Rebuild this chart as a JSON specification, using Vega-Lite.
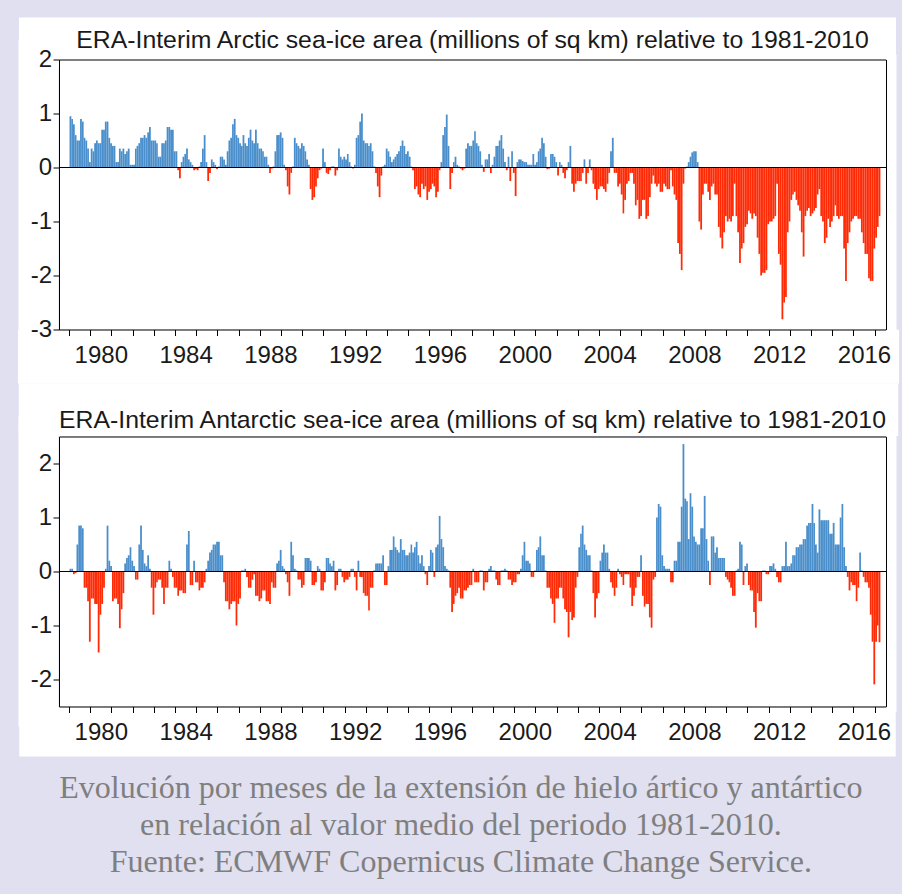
{
"$schema": "https://vega.github.io/schema/vega-lite/v6.json",
"background": "#e0e0f0",
"padding": {"left": 30, "top": 27.5, "right": 10, "bottom": 16},
"spacing": 36,
"title": {"text": ["Evolución por meses de la extensión de hielo ártico y antártico", "en relación al valor medio del periodo 1981-2010.", "Fuente: ECMWF Copernicus Climate Change Service."], "orient": "bottom", "anchor": "middle", "font": "Liberation Serif", "fontSize": 32, "fontWeight": "normal", "color": "#7f7f7f", "lineHeight": 37, "offset": 26},
"config": {
  "view": {"fill": "#ffffff", "stroke": null},
  "axis": {"grid": false, "labelFont": "Liberation Sans", "labelFontSize": 24, "labelColor": "#1a1a1a", "tickColor": "#000000", "domainColor": "#000000", "labelFlush": false, "labelOverlap": false}
},
"datasets": {
"arctic": [
{"d":"1979-01","v":0.95},{"d":"1979-02","v":0.9},{"d":"1979-03","v":0.8},{"d":"1979-04","v":0.6},{"d":"1979-05","v":0.5},{"d":"1979-06","v":0.5},{"d":"1979-07","v":0.9},{"d":"1979-08","v":0.85},{"d":"1979-09","v":0.55},{"d":"1979-10","v":0.5},{"d":"1979-11","v":0.35},{"d":"1979-12","v":0.1},
{"d":"1980-01","v":0.35},{"d":"1980-02","v":0.3},{"d":"1980-03","v":0.45},{"d":"1980-04","v":0.5},{"d":"1980-05","v":0.45},{"d":"1980-06","v":0.45},{"d":"1980-07","v":0.7},{"d":"1980-08","v":0.7},{"d":"1980-09","v":0.85},{"d":"1980-10","v":0.85},{"d":"1980-11","v":0.55},{"d":"1980-12","v":0.45},
{"d":"1981-01","v":0.4},{"d":"1981-02","v":0.4},{"d":"1981-03","v":0.1},{"d":"1981-04","v":0.1},{"d":"1981-05","v":0.35},{"d":"1981-06","v":0.3},{"d":"1981-07","v":0.35},{"d":"1981-08","v":0.25},{"d":"1981-09","v":0.3},{"d":"1981-10","v":0.35},{"d":"1981-11","v":0.05},{"d":"1981-12","v":0.05},
{"d":"1982-01","v":0.05},{"d":"1982-02","v":0.35},{"d":"1982-03","v":0.4},{"d":"1982-04","v":0.45},{"d":"1982-05","v":0.55},{"d":"1982-06","v":0.55},{"d":"1982-07","v":0.6},{"d":"1982-08","v":0.55},{"d":"1982-09","v":0.65},{"d":"1982-10","v":0.75},{"d":"1982-11","v":0.5},{"d":"1982-12","v":0.5},
{"d":"1983-01","v":0.5},{"d":"1983-02","v":0.45},{"d":"1983-03","v":0.2},{"d":"1983-04","v":0.2},{"d":"1983-05","v":0.45},{"d":"1983-06","v":0.45},{"d":"1983-07","v":0.5},{"d":"1983-08","v":0.75},{"d":"1983-09","v":0.75},{"d":"1983-10","v":0.7},{"d":"1983-11","v":0.7},{"d":"1983-12","v":0.3},
{"d":"1984-01","v":0.3},{"d":"1984-02","v":-0.05},{"d":"1984-03","v":-0.2},{"d":"1984-04","v":0.1},{"d":"1984-05","v":0.2},{"d":"1984-06","v":0.25},{"d":"1984-07","v":0.35},{"d":"1984-08","v":0.15},{"d":"1984-09","v":0.1},{"d":"1984-10","v":0.05},{"d":"1984-11","v":-0.05},{"d":"1984-12","v":-0.03},
{"d":"1985-01","v":-0.05},{"d":"1985-02","v":0.02},{"d":"1985-03","v":0.1},{"d":"1985-04","v":0.35},{"d":"1985-05","v":0.6},{"d":"1985-06","v":0.1},{"d":"1985-07","v":-0.25},{"d":"1985-08","v":-0.1},{"d":"1985-09","v":0.15},{"d":"1985-10","v":0.1},{"d":"1985-11","v":0.05},{"d":"1985-12","v":-0.03},
{"d":"1986-01","v":0.02},{"d":"1986-02","v":0.2},{"d":"1986-03","v":0.2},{"d":"1986-04","v":0.15},{"d":"1986-05","v":0.05},{"d":"1986-06","v":0.3},{"d":"1986-07","v":0.5},{"d":"1986-08","v":0.55},{"d":"1986-09","v":0.8},{"d":"1986-10","v":0.9},{"d":"1986-11","v":0.6},{"d":"1986-12","v":0.55},
{"d":"1987-01","v":0.45},{"d":"1987-02","v":0.4},{"d":"1987-03","v":0.6},{"d":"1987-04","v":0.45},{"d":"1987-05","v":0.4},{"d":"1987-06","v":0.55},{"d":"1987-07","v":0.7},{"d":"1987-08","v":0.5},{"d":"1987-09","v":0.45},{"d":"1987-10","v":0.7},{"d":"1987-11","v":0.45},{"d":"1987-12","v":0.35},
{"d":"1988-01","v":0.35},{"d":"1988-02","v":0.3},{"d":"1988-03","v":0.2},{"d":"1988-04","v":0.2},{"d":"1988-05","v":0.05},{"d":"1988-06","v":-0.1},{"d":"1988-07","v":-0.02},{"d":"1988-08","v":0.02},{"d":"1988-09","v":0.3},{"d":"1988-10","v":0.6},{"d":"1988-11","v":0.6},{"d":"1988-12","v":0.65},
{"d":"1989-01","v":0.55},{"d":"1989-02","v":0.05},{"d":"1989-03","v":-0.05},{"d":"1989-04","v":-0.35},{"d":"1989-05","v":-0.5},{"d":"1989-06","v":-0.1},{"d":"1989-07","v":0.02},{"d":"1989-08","v":0.55},{"d":"1989-09","v":0.45},{"d":"1989-10","v":0.4},{"d":"1989-11","v":0.35},{"d":"1989-12","v":0.45},
{"d":"1990-01","v":0.4},{"d":"1990-02","v":0.3},{"d":"1990-03","v":0.15},{"d":"1990-04","v":0.05},{"d":"1990-05","v":-0.4},{"d":"1990-06","v":-0.6},{"d":"1990-07","v":-0.55},{"d":"1990-08","v":-0.35},{"d":"1990-09","v":-0.2},{"d":"1990-10","v":-0.05},{"d":"1990-11","v":-0.02},{"d":"1990-12","v":0.35},
{"d":"1991-01","v":0.1},{"d":"1991-02","v":-0.1},{"d":"1991-03","v":-0.12},{"d":"1991-04","v":-0.05},{"d":"1991-05","v":0.02},{"d":"1991-06","v":0.02},{"d":"1991-07","v":-0.15},{"d":"1991-08","v":-0.05},{"d":"1991-09","v":0.35},{"d":"1991-10","v":0.2},{"d":"1991-11","v":0.15},{"d":"1991-12","v":0.2},
{"d":"1992-01","v":0.15},{"d":"1992-02","v":0.25},{"d":"1992-03","v":0.1},{"d":"1992-04","v":0.02},{"d":"1992-05","v":-0.02},{"d":"1992-06","v":0.05},{"d":"1992-07","v":0.55},{"d":"1992-08","v":0.6},{"d":"1992-09","v":0.85},{"d":"1992-10","v":1.0},{"d":"1992-11","v":0.5},{"d":"1992-12","v":0.45},
{"d":"1993-01","v":0.45},{"d":"1993-02","v":0.4},{"d":"1993-03","v":0.45},{"d":"1993-04","v":0.3},{"d":"1993-05","v":0.02},{"d":"1993-06","v":-0.1},{"d":"1993-07","v":-0.35},{"d":"1993-08","v":-0.55},{"d":"1993-09","v":-0.15},{"d":"1993-10","v":0.02},{"d":"1993-11","v":0.05},{"d":"1993-12","v":0.35},
{"d":"1994-01","v":0.3},{"d":"1994-02","v":0.2},{"d":"1994-03","v":0.1},{"d":"1994-04","v":0.15},{"d":"1994-05","v":0.2},{"d":"1994-06","v":0.25},{"d":"1994-07","v":0.3},{"d":"1994-08","v":0.4},{"d":"1994-09","v":0.5},{"d":"1994-10","v":0.4},{"d":"1994-11","v":0.25},{"d":"1994-12","v":0.3},
{"d":"1995-01","v":0.2},{"d":"1995-02","v":0.02},{"d":"1995-03","v":-0.05},{"d":"1995-04","v":-0.4},{"d":"1995-05","v":-0.35},{"d":"1995-06","v":-0.5},{"d":"1995-07","v":-0.55},{"d":"1995-08","v":-0.3},{"d":"1995-09","v":-0.4},{"d":"1995-10","v":-0.35},{"d":"1995-11","v":-0.6},{"d":"1995-12","v":-0.45},
{"d":"1996-01","v":-0.4},{"d":"1996-02","v":-0.3},{"d":"1996-03","v":-0.35},{"d":"1996-04","v":-0.55},{"d":"1996-05","v":-0.45},{"d":"1996-06","v":-0.05},{"d":"1996-07","v":0.1},{"d":"1996-08","v":0.6},{"d":"1996-09","v":0.75},{"d":"1996-10","v":0.98},{"d":"1996-11","v":0.4},{"d":"1996-12","v":-0.4},
{"d":"1997-01","v":-0.1},{"d":"1997-02","v":0.1},{"d":"1997-03","v":0.2},{"d":"1997-04","v":0.05},{"d":"1997-05","v":0.02},{"d":"1997-06","v":-0.02},{"d":"1997-07","v":-0.05},{"d":"1997-08","v":-0.02},{"d":"1997-09","v":0.35},{"d":"1997-10","v":0.45},{"d":"1997-11","v":0.4},{"d":"1997-12","v":0.4},
{"d":"1998-01","v":0.5},{"d":"1998-02","v":0.67},{"d":"1998-03","v":0.45},{"d":"1998-04","v":0.4},{"d":"1998-05","v":0.3},{"d":"1998-06","v":0.05},{"d":"1998-07","v":-0.08},{"d":"1998-08","v":0.15},{"d":"1998-09","v":0.15},{"d":"1998-10","v":0.25},{"d":"1998-11","v":-0.1},{"d":"1998-12","v":0.05},
{"d":"1999-01","v":0.2},{"d":"1999-02","v":0.4},{"d":"1999-03","v":0.4},{"d":"1999-04","v":0.5},{"d":"1999-05","v":0.6},{"d":"1999-06","v":0.35},{"d":"1999-07","v":0.1},{"d":"1999-08","v":-0.05},{"d":"1999-09","v":0.2},{"d":"1999-10","v":-0.25},{"d":"1999-11","v":0.3},{"d":"1999-12","v":-0.1},
{"d":"2000-01","v":-0.53},{"d":"2000-02","v":0.1},{"d":"2000-03","v":0.15},{"d":"2000-04","v":0.15},{"d":"2000-05","v":0.12},{"d":"2000-06","v":0.1},{"d":"2000-07","v":0.1},{"d":"2000-08","v":0.05},{"d":"2000-09","v":0.05},{"d":"2000-10","v":0.05},{"d":"2000-11","v":0.25},{"d":"2000-12","v":0.05},
{"d":"2001-01","v":0.1},{"d":"2001-02","v":0.3},{"d":"2001-03","v":0.35},{"d":"2001-04","v":0.55},{"d":"2001-05","v":0.45},{"d":"2001-06","v":0.2},{"d":"2001-07","v":-0.03},{"d":"2001-08","v":-0.02},{"d":"2001-09","v":0.25},{"d":"2001-10","v":0.25},{"d":"2001-11","v":0.2},{"d":"2001-12","v":0.1},
{"d":"2002-01","v":-0.15},{"d":"2002-02","v":0.1},{"d":"2002-03","v":0.05},{"d":"2002-04","v":-0.1},{"d":"2002-05","v":-0.2},{"d":"2002-06","v":-0.05},{"d":"2002-07","v":0.1},{"d":"2002-08","v":0.4},{"d":"2002-09","v":-0.3},{"d":"2002-10","v":-0.45},{"d":"2002-11","v":-0.3},{"d":"2002-12","v":-0.25},
{"d":"2003-01","v":-0.25},{"d":"2003-02","v":-0.25},{"d":"2003-03","v":-0.1},{"d":"2003-04","v":0.15},{"d":"2003-05","v":-0.3},{"d":"2003-06","v":-0.1},{"d":"2003-07","v":0.15},{"d":"2003-08","v":-0.05},{"d":"2003-09","v":-0.3},{"d":"2003-10","v":-0.4},{"d":"2003-11","v":-0.6},{"d":"2003-12","v":-0.4},
{"d":"2004-01","v":-0.35},{"d":"2004-02","v":-0.35},{"d":"2004-03","v":-0.4},{"d":"2004-04","v":-0.45},{"d":"2004-05","v":-0.3},{"d":"2004-06","v":-0.1},{"d":"2004-07","v":0.3},{"d":"2004-08","v":0.55},{"d":"2004-09","v":-0.1},{"d":"2004-10","v":-0.1},{"d":"2004-11","v":-0.35},{"d":"2004-12","v":-0.3},
{"d":"2005-01","v":-0.5},{"d":"2005-02","v":-0.85},{"d":"2005-03","v":-0.6},{"d":"2005-04","v":-0.3},{"d":"2005-05","v":-0.25},{"d":"2005-06","v":-0.1},{"d":"2005-07","v":-0.1},{"d":"2005-08","v":-0.3},{"d":"2005-09","v":-0.7},{"d":"2005-10","v":-0.6},{"d":"2005-11","v":-0.95},{"d":"2005-12","v":-0.9},
{"d":"2006-01","v":-0.6},{"d":"2006-02","v":-0.6},{"d":"2006-03","v":-0.95},{"d":"2006-04","v":-0.9},{"d":"2006-05","v":-0.55},{"d":"2006-06","v":-0.3},{"d":"2006-07","v":-0.15},{"d":"2006-08","v":-0.3},{"d":"2006-09","v":-0.35},{"d":"2006-10","v":-0.3},{"d":"2006-11","v":-0.45},{"d":"2006-12","v":-0.45},
{"d":"2007-01","v":-0.3},{"d":"2007-02","v":-0.35},{"d":"2007-03","v":-0.4},{"d":"2007-04","v":-0.4},{"d":"2007-05","v":-0.05},{"d":"2007-06","v":-0.35},{"d":"2007-07","v":-0.5},{"d":"2007-08","v":-0.6},{"d":"2007-09","v":-1.4},{"d":"2007-10","v":-1.6},{"d":"2007-11","v":-1.9},{"d":"2007-12","v":-0.3},
{"d":"2008-01","v":-0.02},{"d":"2008-02","v":0.02},{"d":"2008-03","v":0.1},{"d":"2008-04","v":0.2},{"d":"2008-05","v":0.28},{"d":"2008-06","v":0.3},{"d":"2008-07","v":0.3},{"d":"2008-08","v":0.1},{"d":"2008-09","v":-1.0},{"d":"2008-10","v":-1.15},{"d":"2008-11","v":-0.5},{"d":"2008-12","v":-0.3},
{"d":"2009-01","v":-0.3},{"d":"2009-02","v":-0.45},{"d":"2009-03","v":-0.6},{"d":"2009-04","v":-0.35},{"d":"2009-05","v":-0.3},{"d":"2009-06","v":-0.5},{"d":"2009-07","v":-0.5},{"d":"2009-08","v":-1.1},{"d":"2009-09","v":-1.3},{"d":"2009-10","v":-1.5},{"d":"2009-11","v":-1.2},{"d":"2009-12","v":-0.9},
{"d":"2010-01","v":-1.0},{"d":"2010-02","v":-0.95},{"d":"2010-03","v":-1.0},{"d":"2010-04","v":-0.9},{"d":"2010-05","v":-0.3},{"d":"2010-06","v":-0.9},{"d":"2010-07","v":-1.2},{"d":"2010-08","v":-1.77},{"d":"2010-09","v":-1.5},{"d":"2010-10","v":-1.4},{"d":"2010-11","v":-1.1},{"d":"2010-12","v":-1.05},
{"d":"2011-01","v":-0.8},{"d":"2011-02","v":-0.85},{"d":"2011-03","v":-0.95},{"d":"2011-04","v":-0.85},{"d":"2011-05","v":-0.9},{"d":"2011-06","v":-1.3},{"d":"2011-07","v":-1.6},{"d":"2011-08","v":-2.0},{"d":"2011-09","v":-1.95},{"d":"2011-10","v":-1.95},{"d":"2011-11","v":-1.9},{"d":"2011-12","v":-1.05},
{"d":"2012-01","v":-1.0},{"d":"2012-02","v":-1.0},{"d":"2012-03","v":-0.95},{"d":"2012-04","v":-0.9},{"d":"2012-05","v":-0.3},{"d":"2012-06","v":-1.6},{"d":"2012-07","v":-1.8},{"d":"2012-08","v":-2.81},{"d":"2012-09","v":-2.5},{"d":"2012-10","v":-2.4},{"d":"2012-11","v":-1.2},{"d":"2012-12","v":-1.0},
{"d":"2013-01","v":-0.6},{"d":"2013-02","v":-0.5},{"d":"2013-03","v":-0.45},{"d":"2013-04","v":-0.6},{"d":"2013-05","v":-0.7},{"d":"2013-06","v":-0.8},{"d":"2013-07","v":-1.2},{"d":"2013-08","v":-1.65},{"d":"2013-09","v":-0.9},{"d":"2013-10","v":-0.8},{"d":"2013-11","v":-0.75},{"d":"2013-12","v":-0.9},
{"d":"2014-01","v":-0.85},{"d":"2014-02","v":-0.8},{"d":"2014-03","v":-0.75},{"d":"2014-04","v":-0.5},{"d":"2014-05","v":-0.4},{"d":"2014-06","v":-0.9},{"d":"2014-07","v":-1.0},{"d":"2014-08","v":-1.4},{"d":"2014-09","v":-1.3},{"d":"2014-10","v":-0.95},{"d":"2014-11","v":-1.1},{"d":"2014-12","v":-1.0},
{"d":"2015-01","v":-0.9},{"d":"2015-02","v":-0.7},{"d":"2015-03","v":-0.9},{"d":"2015-04","v":-0.95},{"d":"2015-05","v":-0.9},{"d":"2015-06","v":-0.9},{"d":"2015-07","v":-1.5},{"d":"2015-08","v":-2.1},{"d":"2015-09","v":-1.4},{"d":"2015-10","v":-1.2},{"d":"2015-11","v":-1.0},{"d":"2015-12","v":-0.95},
{"d":"2016-01","v":-0.9},{"d":"2016-02","v":-0.9},{"d":"2016-03","v":-0.95},{"d":"2016-04","v":-0.95},{"d":"2016-05","v":-1.2},{"d":"2016-06","v":-1.4},{"d":"2016-07","v":-1.6},{"d":"2016-08","v":-1.6},{"d":"2016-09","v":-2.05},{"d":"2016-10","v":-2.1},{"d":"2016-11","v":-2.1},{"d":"2016-12","v":-1.5},
{"d":"2017-01","v":-1.3},{"d":"2017-02","v":-1.1},{"d":"2017-03","v":-0.9}
],
"antarctic": [
{"d":"1979-01","v":0.05},{"d":"1979-02","v":0.05},{"d":"1979-03","v":-0.05},{"d":"1979-04","v":-0.03},{"d":"1979-05","v":0.5},{"d":"1979-06","v":0.85},{"d":"1979-07","v":0.85},{"d":"1979-08","v":0.8},{"d":"1979-09","v":-0.3},{"d":"1979-10","v":-0.3},{"d":"1979-11","v":-0.55},{"d":"1979-12","v":-1.3},
{"d":"1980-01","v":-0.5},{"d":"1980-02","v":-0.5},{"d":"1980-03","v":-0.6},{"d":"1980-04","v":-0.6},{"d":"1980-05","v":-1.5},{"d":"1980-06","v":-0.8},{"d":"1980-07","v":-0.6},{"d":"1980-08","v":-0.3},{"d":"1980-09","v":0.05},{"d":"1980-10","v":0.85},{"d":"1980-11","v":0.2},{"d":"1980-12","v":0.1},
{"d":"1981-01","v":-0.55},{"d":"1981-02","v":-0.5},{"d":"1981-03","v":-0.5},{"d":"1981-04","v":-0.6},{"d":"1981-05","v":-1.05},{"d":"1981-06","v":-0.7},{"d":"1981-07","v":-0.4},{"d":"1981-08","v":0.15},{"d":"1981-09","v":0.25},{"d":"1981-10","v":0.3},{"d":"1981-11","v":0.45},{"d":"1981-12","v":0.2},
{"d":"1982-01","v":0.1},{"d":"1982-02","v":-0.15},{"d":"1982-03","v":-0.15},{"d":"1982-04","v":0.5},{"d":"1982-05","v":0.85},{"d":"1982-06","v":0.4},{"d":"1982-07","v":0.15},{"d":"1982-08","v":0.1},{"d":"1982-09","v":0.3},{"d":"1982-10","v":0.05},{"d":"1982-11","v":-0.3},{"d":"1982-12","v":-0.8},
{"d":"1983-01","v":-0.3},{"d":"1983-02","v":-0.2},{"d":"1983-03","v":-0.15},{"d":"1983-04","v":-0.15},{"d":"1983-05","v":-0.3},{"d":"1983-06","v":-0.6},{"d":"1983-07","v":-0.3},{"d":"1983-08","v":-0.3},{"d":"1983-09","v":0.2},{"d":"1983-10","v":0.05},{"d":"1983-11","v":-0.1},{"d":"1983-12","v":-0.3},
{"d":"1984-01","v":-0.3},{"d":"1984-02","v":-0.45},{"d":"1984-03","v":-0.35},{"d":"1984-04","v":-0.35},{"d":"1984-05","v":-0.4},{"d":"1984-06","v":-0.4},{"d":"1984-07","v":0.5},{"d":"1984-08","v":0.75},{"d":"1984-09","v":-0.25},{"d":"1984-10","v":-0.25},{"d":"1984-11","v":0.2},{"d":"1984-12","v":-0.2},
{"d":"1985-01","v":-0.2},{"d":"1985-02","v":-0.35},{"d":"1985-03","v":-0.3},{"d":"1985-04","v":-0.3},{"d":"1985-05","v":-0.2},{"d":"1985-06","v":0.05},{"d":"1985-07","v":0.2},{"d":"1985-08","v":0.35},{"d":"1985-09","v":0.4},{"d":"1985-10","v":0.5},{"d":"1985-11","v":0.5},{"d":"1985-12","v":0.55},
{"d":"1986-01","v":0.55},{"d":"1986-02","v":0.3},{"d":"1986-03","v":0.3},{"d":"1986-04","v":-0.2},{"d":"1986-05","v":-0.55},{"d":"1986-06","v":-0.55},{"d":"1986-07","v":-0.7},{"d":"1986-08","v":-0.6},{"d":"1986-09","v":-0.55},{"d":"1986-10","v":-0.55},{"d":"1986-11","v":-1.0},{"d":"1986-12","v":-0.6},
{"d":"1987-01","v":-0.5},{"d":"1987-02","v":0.02},{"d":"1987-03","v":0.02},{"d":"1987-04","v":0.05},{"d":"1987-05","v":-0.1},{"d":"1987-06","v":-0.3},{"d":"1987-07","v":-0.3},{"d":"1987-08","v":-0.15},{"d":"1987-09","v":-0.05},{"d":"1987-10","v":-0.45},{"d":"1987-11","v":-0.45},{"d":"1987-12","v":-0.55},
{"d":"1988-01","v":-0.5},{"d":"1988-02","v":-0.35},{"d":"1988-03","v":-0.35},{"d":"1988-04","v":-0.55},{"d":"1988-05","v":-0.55},{"d":"1988-06","v":-0.6},{"d":"1988-07","v":-0.2},{"d":"1988-08","v":-0.3},{"d":"1988-09","v":-0.3},{"d":"1988-10","v":0.15},{"d":"1988-11","v":0.2},{"d":"1988-12","v":0.4},
{"d":"1989-01","v":0.1},{"d":"1989-02","v":0.05},{"d":"1989-03","v":-0.05},{"d":"1989-04","v":-0.2},{"d":"1989-05","v":-0.45},{"d":"1989-06","v":0.55},{"d":"1989-07","v":0.3},{"d":"1989-08","v":0.05},{"d":"1989-09","v":0.02},{"d":"1989-10","v":-0.15},{"d":"1989-11","v":-0.15},{"d":"1989-12","v":-0.3},
{"d":"1990-01","v":-0.25},{"d":"1990-02","v":0.25},{"d":"1990-03","v":0.25},{"d":"1990-04","v":0.25},{"d":"1990-05","v":0.2},{"d":"1990-06","v":-0.25},{"d":"1990-07","v":-0.25},{"d":"1990-08","v":-0.2},{"d":"1990-09","v":0.1},{"d":"1990-10","v":0.05},{"d":"1990-11","v":-0.35},{"d":"1990-12","v":-0.35},
{"d":"1991-01","v":-0.2},{"d":"1991-02","v":0.25},{"d":"1991-03","v":0.25},{"d":"1991-04","v":0.15},{"d":"1991-05","v":0.1},{"d":"1991-06","v":0.2},{"d":"1991-07","v":-0.35},{"d":"1991-08","v":-0.25},{"d":"1991-09","v":0.05},{"d":"1991-10","v":0.05},{"d":"1991-11","v":-0.1},{"d":"1991-12","v":-0.2},
{"d":"1992-01","v":-0.15},{"d":"1992-02","v":-0.15},{"d":"1992-03","v":-0.1},{"d":"1992-04","v":0.05},{"d":"1992-05","v":0.05},{"d":"1992-06","v":-0.1},{"d":"1992-07","v":-0.35},{"d":"1992-08","v":0.2},{"d":"1992-09","v":-0.1},{"d":"1992-10","v":-0.1},{"d":"1992-11","v":-0.4},{"d":"1992-12","v":-0.45},
{"d":"1993-01","v":-0.45},{"d":"1993-02","v":-0.72},{"d":"1993-03","v":-0.3},{"d":"1993-04","v":-0.3},{"d":"1993-05","v":0.02},{"d":"1993-06","v":0.15},{"d":"1993-07","v":0.15},{"d":"1993-08","v":0.15},{"d":"1993-09","v":0.15},{"d":"1993-10","v":0.3},{"d":"1993-11","v":-0.25},{"d":"1993-12","v":-0.25},
{"d":"1994-01","v":0.1},{"d":"1994-02","v":0.4},{"d":"1994-03","v":0.4},{"d":"1994-04","v":0.65},{"d":"1994-05","v":0.45},{"d":"1994-06","v":0.4},{"d":"1994-07","v":0.35},{"d":"1994-08","v":0.6},{"d":"1994-09","v":0.4},{"d":"1994-10","v":0.4},{"d":"1994-11","v":0.3},{"d":"1994-12","v":0.3},
{"d":"1995-01","v":0.35},{"d":"1995-02","v":0.5},{"d":"1995-03","v":0.35},{"d":"1995-04","v":0.45},{"d":"1995-05","v":0.55},{"d":"1995-06","v":0.3},{"d":"1995-07","v":0.15},{"d":"1995-08","v":0.3},{"d":"1995-09","v":0.1},{"d":"1995-10","v":-0.05},{"d":"1995-11","v":-0.25},{"d":"1995-12","v":0.1},
{"d":"1996-01","v":0.4},{"d":"1996-02","v":0.35},{"d":"1996-03","v":-0.1},{"d":"1996-04","v":0.45},{"d":"1996-05","v":0.5},{"d":"1996-06","v":1.03},{"d":"1996-07","v":0.6},{"d":"1996-08","v":0.45},{"d":"1996-09","v":0.1},{"d":"1996-10","v":0.05},{"d":"1996-11","v":0.02},{"d":"1996-12","v":-0.3},
{"d":"1997-01","v":-0.75},{"d":"1997-02","v":-0.6},{"d":"1997-03","v":-0.45},{"d":"1997-04","v":-0.4},{"d":"1997-05","v":-0.3},{"d":"1997-06","v":-0.5},{"d":"1997-07","v":-0.5},{"d":"1997-08","v":-0.35},{"d":"1997-09","v":-0.35},{"d":"1997-10","v":-0.3},{"d":"1997-11","v":-0.25},{"d":"1997-12","v":-0.25},
{"d":"1998-01","v":0.05},{"d":"1998-02","v":-0.2},{"d":"1998-03","v":-0.2},{"d":"1998-04","v":-0.2},{"d":"1998-05","v":0.02},{"d":"1998-06","v":0.02},{"d":"1998-07","v":-0.35},{"d":"1998-08","v":-0.2},{"d":"1998-09","v":-0.2},{"d":"1998-10","v":0.05},{"d":"1998-11","v":0.1},{"d":"1998-12","v":0.02},
{"d":"1999-01","v":0.02},{"d":"1999-02","v":-0.15},{"d":"1999-03","v":-0.25},{"d":"1999-04","v":-0.25},{"d":"1999-05","v":0.02},{"d":"1999-06","v":0.02},{"d":"1999-07","v":0.05},{"d":"1999-08","v":0.02},{"d":"1999-09","v":-0.15},{"d":"1999-10","v":-0.15},{"d":"1999-11","v":-0.25},{"d":"1999-12","v":-0.2},
{"d":"2000-01","v":-0.2},{"d":"2000-02","v":-0.05},{"d":"2000-03","v":-0.05},{"d":"2000-04","v":0.05},{"d":"2000-05","v":0.3},{"d":"2000-06","v":0.55},{"d":"2000-07","v":0.2},{"d":"2000-08","v":0.2},{"d":"2000-09","v":0.15},{"d":"2000-10","v":-0.1},{"d":"2000-11","v":-0.1},{"d":"2000-12","v":0.02},
{"d":"2001-01","v":0.4},{"d":"2001-02","v":0.45},{"d":"2001-03","v":0.65},{"d":"2001-04","v":0.3},{"d":"2001-05","v":0.3},{"d":"2001-06","v":0.02},{"d":"2001-07","v":-0.3},{"d":"2001-08","v":-0.3},{"d":"2001-09","v":-0.5},{"d":"2001-10","v":-0.6},{"d":"2001-11","v":-0.95},{"d":"2001-12","v":-0.5},
{"d":"2002-01","v":-0.5},{"d":"2002-02","v":-0.3},{"d":"2002-03","v":-0.3},{"d":"2002-04","v":-0.5},{"d":"2002-05","v":-0.7},{"d":"2002-06","v":-0.75},{"d":"2002-07","v":-1.22},{"d":"2002-08","v":-0.75},{"d":"2002-09","v":-0.9},{"d":"2002-10","v":-0.85},{"d":"2002-11","v":-0.3},{"d":"2002-12","v":-0.1},
{"d":"2003-01","v":0.45},{"d":"2003-02","v":0.7},{"d":"2003-03","v":0.85},{"d":"2003-04","v":0.5},{"d":"2003-05","v":0.4},{"d":"2003-06","v":0.3},{"d":"2003-07","v":0.3},{"d":"2003-08","v":0.02},{"d":"2003-09","v":-0.4},{"d":"2003-10","v":-0.85},{"d":"2003-11","v":-0.5},{"d":"2003-12","v":-0.4},
{"d":"2004-01","v":0.2},{"d":"2004-02","v":0.35},{"d":"2004-03","v":0.5},{"d":"2004-04","v":0.35},{"d":"2004-05","v":0.35},{"d":"2004-06","v":0.05},{"d":"2004-07","v":-0.2},{"d":"2004-08","v":-0.3},{"d":"2004-09","v":-0.45},{"d":"2004-10","v":-0.3},{"d":"2004-11","v":0.05},{"d":"2004-12","v":-0.05},
{"d":"2005-01","v":-0.1},{"d":"2005-02","v":-0.25},{"d":"2005-03","v":-0.05},{"d":"2005-04","v":-0.05},{"d":"2005-05","v":-0.05},{"d":"2005-06","v":-0.3},{"d":"2005-07","v":-0.64},{"d":"2005-08","v":-0.45},{"d":"2005-09","v":-0.3},{"d":"2005-10","v":-0.1},{"d":"2005-11","v":-0.1},{"d":"2005-12","v":0.3},
{"d":"2006-01","v":-0.45},{"d":"2006-02","v":-0.65},{"d":"2006-03","v":-0.6},{"d":"2006-04","v":-0.6},{"d":"2006-05","v":-0.85},{"d":"2006-06","v":-1.04},{"d":"2006-07","v":-0.15},{"d":"2006-08","v":-0.1},{"d":"2006-09","v":1.0},{"d":"2006-10","v":1.25},{"d":"2006-11","v":1.2},{"d":"2006-12","v":0.3},
{"d":"2007-01","v":0.1},{"d":"2007-02","v":0.05},{"d":"2007-03","v":0.05},{"d":"2007-04","v":0.05},{"d":"2007-05","v":-0.2},{"d":"2007-06","v":-0.2},{"d":"2007-07","v":0.2},{"d":"2007-08","v":0.2},{"d":"2007-09","v":0.55},{"d":"2007-10","v":0.55},{"d":"2007-11","v":1.2},{"d":"2007-12","v":2.36},
{"d":"2008-01","v":1.35},{"d":"2008-02","v":1.3},{"d":"2008-03","v":0.6},{"d":"2008-04","v":1.45},{"d":"2008-05","v":1.2},{"d":"2008-06","v":0.65},{"d":"2008-07","v":0.55},{"d":"2008-08","v":0.5},{"d":"2008-09","v":0.5},{"d":"2008-10","v":0.8},{"d":"2008-11","v":0.8},{"d":"2008-12","v":1.4},
{"d":"2009-01","v":0.6},{"d":"2009-02","v":0.2},{"d":"2009-03","v":-0.25},{"d":"2009-04","v":0.65},{"d":"2009-05","v":0.65},{"d":"2009-06","v":0.35},{"d":"2009-07","v":0.45},{"d":"2009-08","v":0.25},{"d":"2009-09","v":0.25},{"d":"2009-10","v":0.25},{"d":"2009-11","v":0.25},{"d":"2009-12","v":-0.1},
{"d":"2010-01","v":-0.15},{"d":"2010-02","v":-0.2},{"d":"2010-03","v":-0.3},{"d":"2010-04","v":-0.45},{"d":"2010-05","v":-0.45},{"d":"2010-06","v":0.02},{"d":"2010-07","v":0.05},{"d":"2010-08","v":0.55},{"d":"2010-09","v":0.5},{"d":"2010-10","v":-0.25},{"d":"2010-11","v":0.1},{"d":"2010-12","v":0.15},
{"d":"2011-01","v":-0.25},{"d":"2011-02","v":-0.35},{"d":"2011-03","v":-0.35},{"d":"2011-04","v":-0.75},{"d":"2011-05","v":-1.04},{"d":"2011-06","v":-0.4},{"d":"2011-07","v":-0.55},{"d":"2011-08","v":-0.55},{"d":"2011-09","v":0.02},{"d":"2011-10","v":0.02},{"d":"2011-11","v":-0.05},{"d":"2011-12","v":-0.05},
{"d":"2012-01","v":0.1},{"d":"2012-02","v":0.1},{"d":"2012-03","v":0.15},{"d":"2012-04","v":0.05},{"d":"2012-05","v":-0.1},{"d":"2012-06","v":-0.2},{"d":"2012-07","v":-0.2},{"d":"2012-08","v":0.1},{"d":"2012-09","v":0.1},{"d":"2012-10","v":0.55},{"d":"2012-11","v":0.1},{"d":"2012-12","v":0.1},
{"d":"2013-01","v":0.15},{"d":"2013-02","v":0.3},{"d":"2013-03","v":0.3},{"d":"2013-04","v":0.45},{"d":"2013-05","v":0.45},{"d":"2013-06","v":0.5},{"d":"2013-07","v":0.5},{"d":"2013-08","v":0.6},{"d":"2013-09","v":0.6},{"d":"2013-10","v":0.85},{"d":"2013-11","v":0.9},{"d":"2013-12","v":0.9},
{"d":"2014-01","v":1.25},{"d":"2014-02","v":0.9},{"d":"2014-03","v":0.5},{"d":"2014-04","v":0.35},{"d":"2014-05","v":1.15},{"d":"2014-06","v":0.95},{"d":"2014-07","v":0.95},{"d":"2014-08","v":0.95},{"d":"2014-09","v":0.95},{"d":"2014-10","v":0.95},{"d":"2014-11","v":0.7},{"d":"2014-12","v":0.7},
{"d":"2015-01","v":0.9},{"d":"2015-02","v":0.5},{"d":"2015-03","v":0.5},{"d":"2015-04","v":0.5},{"d":"2015-05","v":1.0},{"d":"2015-06","v":1.25},{"d":"2015-07","v":0.45},{"d":"2015-08","v":0.1},{"d":"2015-09","v":-0.1},{"d":"2015-10","v":-0.35},{"d":"2015-11","v":-0.2},{"d":"2015-12","v":-0.25},
{"d":"2016-01","v":-0.25},{"d":"2016-02","v":-0.55},{"d":"2016-03","v":-0.3},{"d":"2016-04","v":0.35},{"d":"2016-05","v":0.02},{"d":"2016-06","v":-0.1},{"d":"2016-07","v":-0.2},{"d":"2016-08","v":-0.2},{"d":"2016-09","v":-0.3},{"d":"2016-10","v":-0.8},{"d":"2016-11","v":-1.3},{"d":"2016-12","v":-2.09},
{"d":"2017-01","v":-1.3},{"d":"2017-02","v":-1.0},{"d":"2017-03","v":-1.31}
]
},
"vconcat": [
{
"width": 827, "height": 270,
"title": {"text": "ERA-Interim Arctic sea-ice area (millions of sq km) relative to 1981-2010", "font": "Liberation Sans", "fontSize": 24.8, "fontWeight": "normal", "color": "#1a1a1a", "anchor": "middle", "frame": "group", "offset": -25.5, "baseline": "alphabetic"},
"data": {"name": "arctic"},
"layer": [
{"mark": {"type": "point", "opacity": 0},
 "encoding": {
  "x": {"field": "d", "timeUnit": "utcyearmonth", "type": "temporal", "axis": {"orient": "top", "translate": -15, "offset": 2, "domainWidth": 50, "domainColor": "#ffffff", "domainCap": "square", "ticks": false, "labels": false, "title": null, "grid": false}},
  "y": {"field": "v", "type": "quantitative", "axis": {"orient": "left", "translate": 0, "offset": 20.5, "domainWidth": 40, "domainColor": "#ffffff", "domainCap": "square", "ticks": false, "labels": false, "title": null, "grid": false, "minExtent": 0}}
 }},
{"mark": {"type": "point", "opacity": 0},
 "encoding": {
  "x": {"field": "d", "timeUnit": "utcyearmonth", "type": "temporal", "axis": {"orient": "bottom", "translate": -14, "offset": 41.25, "domainWidth": 54, "domainColor": "#ffffff", "domainCap": "square", "ticks": false, "labels": false, "title": null, "grid": false}},
  "y": {"field": "v", "type": "quantitative", "axis": {"orient": "right", "translate": 0, "offset": 5.5, "domainWidth": 10, "domainColor": "#ffffff", "domainCap": "square", "ticks": false, "labels": false, "title": null, "grid": false, "minExtent": 0}}
 }},
{"mark": {"type": "bar", "binSpacing": 0},
 "encoding": {
  "x": {"field": "d", "timeUnit": "utcyearmonth", "type": "temporal", "scale": {"domain": [{"year": 1978, "month": 7, "date": 12, "utc": true}, {"year": 2017, "month": 7, "date": 15, "utc": true}]}, "axis": {"orient": "bottom", "tickCount": {"interval": "year", "step": 1}, "labels": false, "ticks": true, "tickSize": 6, "domainWidth": 1, "title": null, "grid": false}},
  "y": {"field": "v", "type": "quantitative", "scale": {"domain": [-3, 2], "nice": false}, "axis": {"orient": "left", "values": [-3, -2, -1, 0, 1, 2], "labelExpr": "datum.value < 0 ? '-' + (-datum.value) : '' + datum.value", "tickSize": 6, "labelPadding": 1.5, "title": null, "grid": false, "minExtent": 0}},
  "color": {"condition": {"test": "datum.v > 0", "value": "#4a8fcb"}, "value": "#ff2b06"}
 }},
{"mark": {"type": "point", "opacity": 0},
 "encoding": {
  "x": {"field": "d", "timeUnit": "utcyearmonth", "type": "temporal", "axis": {"orient": "bottom", "values": [{"year": 1980, "month": 7, "date": 1, "utc": true}, {"year": 1984, "month": 7, "date": 1, "utc": true}, {"year": 1988, "month": 7, "date": 1, "utc": true}, {"year": 1992, "month": 7, "date": 1, "utc": true}, {"year": 1996, "month": 7, "date": 1, "utc": true}, {"year": 2000, "month": 7, "date": 1, "utc": true}, {"year": 2004, "month": 7, "date": 1, "utc": true}, {"year": 2008, "month": 7, "date": 1, "utc": true}, {"year": 2012, "month": 7, "date": 1, "utc": true}, {"year": 2016, "month": 7, "date": 1, "utc": true}], "labelExpr": "utcFormat(datum.value, '%Y')", "ticks": false, "domain": false, "labelPadding": 13.5, "title": null, "grid": false}},
  "y": {"field": "v", "type": "quantitative", "axis": {"orient": "right", "ticks": false, "labels": false, "title": null, "grid": false, "minExtent": 0}}
 }},
{"mark": {"type": "point", "opacity": 0},
 "encoding": {
  "x": {"field": "d", "timeUnit": "utcyearmonth", "type": "temporal", "axis": {"orient": "top", "ticks": false, "labels": false, "title": null, "grid": false}},
  "y": {"field": "v", "type": "quantitative", "axis": null}
 }},
{"mark": {"type": "rule", "color": "#000000", "strokeWidth": 1},
 "encoding": {"y": {"datum": 0, "type": "quantitative", "axis": null}}}
],
"resolve": {"axis": {"x": "independent", "y": "independent"}}
},
{
"width": 827, "height": 270,
"title": {"text": "ERA-Interim Antarctic sea-ice area (millions of sq km) relative to 1981-2010", "font": "Liberation Sans", "fontSize": 24.8, "fontWeight": "normal", "color": "#1a1a1a", "anchor": "middle", "frame": "group", "offset": -29.5, "baseline": "alphabetic"},
"data": {"name": "antarctic"},
"layer": [
{"mark": {"type": "point", "opacity": 0},
 "encoding": {
  "x": {"field": "d", "timeUnit": "utcyearmonth", "type": "temporal", "axis": {"orient": "top", "translate": -14, "offset": 12.75, "domainWidth": 52.5, "domainColor": "#ffffff", "domainCap": "square", "ticks": false, "labels": false, "title": null, "grid": false}},
  "y": {"field": "v", "type": "quantitative", "axis": {"orient": "left", "translate": 0, "offset": 20.5, "domainWidth": 40, "domainColor": "#ffffff", "domainCap": "square", "ticks": false, "labels": false, "title": null, "grid": false, "minExtent": 0}}
 }},
{"mark": {"type": "point", "opacity": 0},
 "encoding": {
  "x": {"field": "d", "timeUnit": "utcyearmonth", "type": "temporal", "axis": {"orient": "bottom", "translate": -15, "offset": 40.25, "domainWidth": 49.5, "domainColor": "#ffffff", "domainCap": "square", "ticks": false, "labels": false, "title": null, "grid": false}},
  "y": {"field": "v", "type": "quantitative", "axis": {"orient": "right", "translate": 0, "offset": 5.5, "domainWidth": 10, "domainColor": "#ffffff", "domainCap": "square", "ticks": false, "labels": false, "title": null, "grid": false, "minExtent": 0}}
 }},
{"mark": {"type": "bar", "binSpacing": 0},
 "encoding": {
  "x": {"field": "d", "timeUnit": "utcyearmonth", "type": "temporal", "scale": {"domain": [{"year": 1978, "month": 7, "date": 12, "utc": true}, {"year": 2017, "month": 7, "date": 15, "utc": true}]}, "axis": {"orient": "bottom", "tickCount": {"interval": "year", "step": 1}, "labels": false, "ticks": true, "tickSize": 6, "domainWidth": 1, "title": null, "grid": false}},
  "y": {"field": "v", "type": "quantitative", "scale": {"domain": [-2.5, 2.5], "nice": false}, "axis": {"orient": "left", "values": [-2, -1, 0, 1, 2], "labelExpr": "datum.value < 0 ? '-' + (-datum.value) : '' + datum.value", "tickSize": 6, "labelPadding": 1.5, "title": null, "grid": false, "minExtent": 0}},
  "color": {"condition": {"test": "datum.v > 0", "value": "#4a8fcb"}, "value": "#ff2b06"}
 }},
{"mark": {"type": "point", "opacity": 0},
 "encoding": {
  "x": {"field": "d", "timeUnit": "utcyearmonth", "type": "temporal", "axis": {"orient": "bottom", "values": [{"year": 1980, "month": 7, "date": 1, "utc": true}, {"year": 1984, "month": 7, "date": 1, "utc": true}, {"year": 1988, "month": 7, "date": 1, "utc": true}, {"year": 1992, "month": 7, "date": 1, "utc": true}, {"year": 1996, "month": 7, "date": 1, "utc": true}, {"year": 2000, "month": 7, "date": 1, "utc": true}, {"year": 2004, "month": 7, "date": 1, "utc": true}, {"year": 2008, "month": 7, "date": 1, "utc": true}, {"year": 2012, "month": 7, "date": 1, "utc": true}, {"year": 2016, "month": 7, "date": 1, "utc": true}], "labelExpr": "utcFormat(datum.value, '%Y')", "ticks": false, "domain": false, "labelPadding": 13.5, "title": null, "grid": false}},
  "y": {"field": "v", "type": "quantitative", "axis": {"orient": "right", "ticks": false, "labels": false, "title": null, "grid": false, "minExtent": 0}}
 }},
{"mark": {"type": "point", "opacity": 0},
 "encoding": {
  "x": {"field": "d", "timeUnit": "utcyearmonth", "type": "temporal", "axis": {"orient": "top", "ticks": false, "labels": false, "title": null, "grid": false}},
  "y": {"field": "v", "type": "quantitative", "axis": null}
 }},
{"mark": {"type": "rule", "color": "#000000", "strokeWidth": 1},
 "encoding": {"y": {"datum": 0, "type": "quantitative", "axis": null}}}
],
"resolve": {"axis": {"x": "independent", "y": "independent"}}
}
]
}
